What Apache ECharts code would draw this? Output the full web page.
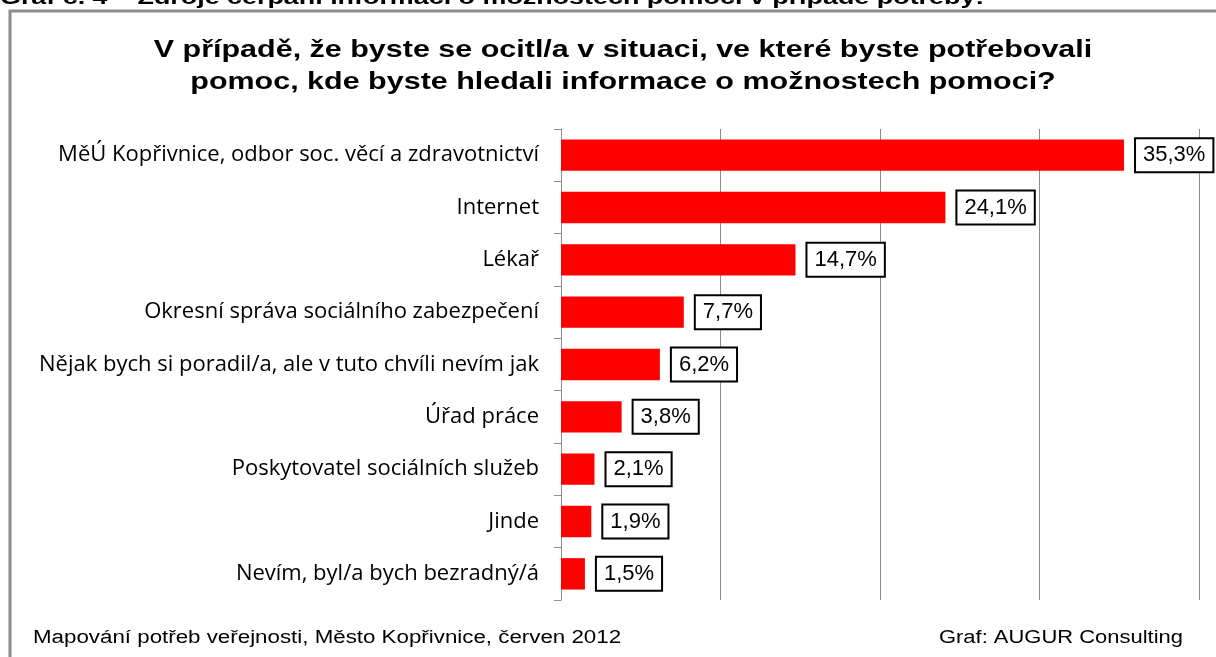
<!DOCTYPE html>
<html>
<head>
<meta charset="utf-8">
<script src="https://cdn.jsdelivr.net/npm/echarts@6/dist/echarts.min.js"></script>
<style>
  html, body { margin: 0; padding: 0; background: #fff; }
  #chart { width: 1216px; height: 657px; }
</style>
</head>
<body>
<div id="chart"></div>
<script>
const categories = [
  'MěÚ Kopřivnice, odbor soc. věcí a zdravotnictví',
  'Internet',
  'Lékař',
  'Okresní správa sociálního zabezpečení',
  'Nějak bych si poradil/a, ale v tuto chvíli nevím jak',
  'Úřad práce',
  'Poskytovatel sociálních služeb',
  'Jinde',
  'Nevím, byl/a bych bezradný/á'
];
const shares = [35.3, 24.1, 14.7, 7.7, 6.2, 3.8, 2.1, 1.9, 1.5];

const pageHeading = 'Graf č. 4 – Zdroje čerpání informací o možnostech pomoci v případě potřeby:';
const titleLines = [
  'V případě, že byste se ocitl/a v situaci, ve které byste potřebovali',
  'pomoc, kde byste hledali informace o možnostech pomoci?'
];
const sourceNote = 'Mapování potřeb veřejnosti, Město Kopřivnice, červen 2012';
const authorNote = 'Graf: AUGUR Consulting';

const ARIAL = '"Liberation Sans", Arial, sans-serif';

const chart = echarts.init(document.getElementById('chart'));

// the original picture is stretched sideways, so the texts get a scaleX
const titleTexts = titleLines.map((line, i) => ({
  type: 'text',
  x: 623,
  y: 50 + i * 32,
  scaleX: 1.27,
  style: {
    text: line,
    font: 'bold 24px ' + ARIAL,
    fill: '#000',
    textAlign: 'center',
    textVerticalAlign: 'middle'
  }
}));

const option = {
  animation: false,
  backgroundColor: '#fff',
  graphic: [
    {
      type: 'rect',
      shape: { x: 10, y: 11, width: 1400, height: 800 },
      style: { fill: 'none', stroke: '#8c8c8c', lineWidth: 3 }
    },
    {
      type: 'text',
      x: 0,
      y: -12,
      scaleX: 1.28,
      style: {
        text: pageHeading,
        font: 'bold 21px ' + ARIAL,
        fill: '#000',
        textVerticalAlign: 'top'
      }
    },
    ...titleTexts,
    {
      type: 'text',
      x: 33,
      y: 638,
      scaleX: 1.24,
      style: {
        text: sourceNote,
        font: '18px ' + ARIAL,
        fill: '#000',
        textVerticalAlign: 'middle'
      }
    },
    {
      type: 'text',
      x: 1183,
      y: 638,
      scaleX: 1.22,
      style: {
        text: authorNote,
        font: '18px ' + ARIAL,
        fill: '#000',
        textAlign: 'right',
        textVerticalAlign: 'middle'
      }
    }
  ],
  grid: {
    left: 561,
    right: 17,
    top: 129,
    bottom: 57,
    containLabel: false
  },
  xAxis: {
    type: 'value',
    min: 0,
    max: 40,
    interval: 10,
    axisLine: { show: false },
    axisTick: { show: false },
    axisLabel: { show: false },
    splitLine: { show: true, lineStyle: { color: '#8c8c8c', width: 1 } }
  },
  yAxis: {
    type: 'category',
    inverse: true,
    data: categories,
    axisLine: { show: true, lineStyle: { color: '#8c8c8c', width: 1 } },
    axisTick: { show: true, inside: false, length: 7, lineStyle: { color: '#8c8c8c' } },
    axisLabel: {
      margin: 22,
      fontFamily: '"Open Sans", sans-serif',
      fontSize: 22,
      color: '#000'
    }
  },
  series: [
    {
      type: 'bar',
      data: shares,
      barWidth: '60%',
      itemStyle: { color: '#ff0000' },
      label: {
        show: true,
        position: 'right',
        distance: 12,
        formatter: p => String(p.value).replace('.', ',') + '%',
        fontFamily: ARIAL,
        fontSize: 22,
        color: '#000',
        backgroundColor: '#fff',
        borderColor: '#000',
        borderWidth: 2,
        padding: [6, 7, 4, 7]
      }
    }
  ]
};

chart.setOption(option);
</script>
</body>
</html>
